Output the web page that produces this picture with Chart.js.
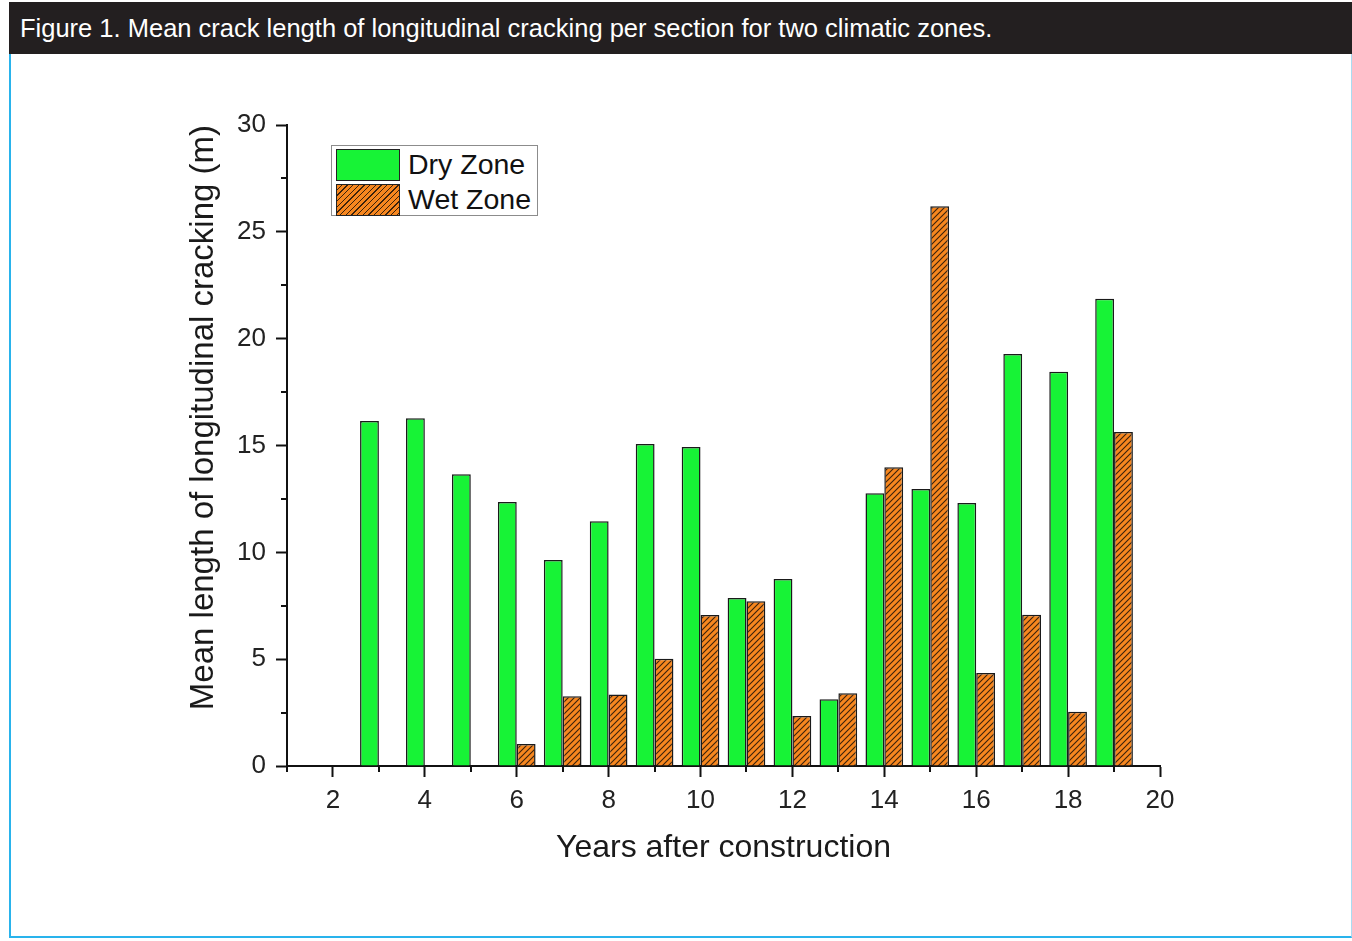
<!DOCTYPE html>
<html>
<head>
<meta charset="utf-8">
<script src="https://cdn.jsdelivr.net/npm/chart.js@4.4.1/dist/chart.umd.min.js"></script>
<style>
  body { margin: 0; background: #fff; font-family: "Liberation Sans", Arial, sans-serif; }
  #frame { position: absolute; left: 9px; top: 2px; width: 1340px; height: 934px;
           border-left: 2px solid #29b3ec; border-bottom: 2px solid #29b3ec; border-right: 1px solid #a9dcf2; }
  #header { position: absolute; left: 9px; top: 2px; width: 1343px; height: 52px; background: #231f20;
            color: #fff; font-size: 25.5px; line-height: 52px; padding-left: 11px; box-sizing: border-box; white-space: nowrap; }
  #myChart { position: absolute; left: 0; top: 0; }
  #legend { position: absolute; left: 331px; top: 145px; width: 205px; height: 69px;
            border: 1px solid #8c8c8c; background: #fff; }
  .row { position: absolute; left: 4px; height: 31px; }
  .swatch { position: absolute; left: 0; top: 0; width: 62px; height: 30px; border: 1px solid #222; }
  .label { position: absolute; left: 72px; top: -2px; font-size: 28.5px; line-height: 34px; color: #111; white-space: nowrap; }
</style>
</head>
<body>
<div id="frame"></div>
<div id="header">Figure 1. Mean crack length of longitudinal cracking per section for two climatic zones.</div>
<canvas id="myChart" width="1352" height="941"></canvas>
<div id="legend"></div>
<script>
// years after construction
const years = [3, 4, 5, 6, 7, 8, 9, 10, 11, 12, 13, 14, 15, 16, 17, 18, 19];
const dryZone = [16.15, 16.28, 13.66, 12.35, 9.64, 11.46, 15.07, 14.93, 7.86, 8.75, 3.12, 12.77, 12.96, 12.31, 19.28, 18.45, 21.87];
const wetZone = [null, null, null, 1.03, 3.26, 3.35, 5.02, 7.07, 7.71, 2.34, 3.40, 13.98, 26.2, 4.35, 7.08, 2.54, 15.63];
const xTicks = [2, 4, 6, 8, 10, 12, 14, 16, 18, 20];
const xMinor = [1, 3, 5, 7, 9, 11, 13, 15, 17, 19];
const yMinor = [2.5, 7.5, 12.5, 17.5, 22.5, 27.5];

const green = '#17f336';
const orange = '#f7871f';

// orange with black /// hatch
function hatch() {
    const c = document.createElement('canvas');
    c.width = 6; c.height = 6;
    const g = c.getContext('2d');
    g.fillStyle = orange;
    g.fillRect(0, 0, 6, 6);
    g.strokeStyle = '#3a220c';
    g.lineWidth = 1.1;
    g.beginPath();
    g.moveTo(-1, 7); g.lineTo(7, -1);
    g.moveTo(-1, 1); g.lineTo(1, -1);
    g.moveTo(5, 7); g.lineTo(7, 5);
    g.stroke();
    return g.createPattern(c, 'repeat');
}
const wetFill = hatch();

// short minor ticks drawn on the scales
const minorTicks = {
    id: 'minorTicks',
    afterDraw(chart) {
        const ctx = chart.ctx;
        const x = chart.scales.x, y = chart.scales.y;
        ctx.save();
        ctx.strokeStyle = '#111';
        ctx.lineWidth = 2;
        ctx.beginPath();
        xMinor.forEach(v => {
            const px = Math.round(x.getPixelForValue(v));
            ctx.moveTo(px, x.top); ctx.lineTo(px, x.top + 6);
        });
        yMinor.forEach(v => {
            const py = Math.round(y.getPixelForValue(v));
            ctx.moveTo(y.right, py); ctx.lineTo(y.right - 6, py);
        });
        ctx.stroke();
        ctx.restore();
    }
};

const font = { family: '"Liberation Sans", Arial, sans-serif' };

const ctx = document.getElementById('myChart').getContext('2d');
const chart = new Chart(ctx, {
    type: 'bar',
    data: {
        datasets: [{
            label: 'Dry Zone',
            data: years.map((yr, i) => ({ x: yr, y: dryZone[i] })),
            backgroundColor: green,
            borderColor: '#1a1a1a',
            borderWidth: 1.5
        }, {
            label: 'Wet Zone',
            data: years.map((yr, i) => ({ x: yr, y: wetZone[i] })),
            backgroundColor: wetFill,
            borderColor: '#1a1a1a',
            borderWidth: 1.5
        }]
    },
    options: {
        responsive: false,
        animation: false,
        categoryPercentage: 0.82,
        barPercentage: 1.0,
        layout: { padding: { left: 180, top: 125, right: 192, bottom: 65 } },
        plugins: { legend: { display: false }, tooltip: { enabled: false } },
        scales: {
            x: {
                type: 'linear',
                min: 1,
                max: 20,
                offset: false,
                afterBuildTicks: s => { s.ticks = xTicks.map(v => ({ value: v })); },
                afterFit: s => { s.height = 110; },
                grid: { offset: false, drawOnChartArea: false, tickLength: 11, tickWidth: 2, tickColor: '#111' },
                border: { color: '#111', width: 2 },
                ticks: { color: '#222', padding: 8, font: { ...font, size: 26 } },
                title: { display: true, text: 'Years after construction', color: '#1a1a1a',
                         padding: { top: 0, bottom: 9 }, font: { ...font, size: 32 } }
            },
            y: {
                min: 0,
                max: 30,
                afterFit: s => { s.width = 107; },
                grid: { drawOnChartArea: false, tickLength: 11, tickWidth: 2, tickColor: '#111' },
                border: { color: '#111', width: 2 },
                ticks: { stepSize: 5, color: '#222', padding: 10, font: { ...font, size: 26 } },
                title: { display: true, text: 'Mean length of longitudinal cracking (m)', color: '#1a1a1a',
                         align: 'end', padding: { top: 4, bottom: 0 }, font: { ...font, size: 33 } }
            }
        }
    },
    plugins: [minorTicks]
});

// legend box inside the plot
const legend = document.getElementById('legend');
chart.data.datasets.forEach((ds, i) => {
    const row = document.createElement('div');
    row.className = 'row';
    row.style.top = (3 + i * 35) + 'px';
    const sw = document.createElement('div');
    sw.className = 'swatch';
    if (i === 0) sw.style.background = green;
    else sw.style.background = 'repeating-linear-gradient(135deg, ' + orange + ' 0px, ' + orange + ' 3px, #3a220c 3px, #3a220c 4px)';
    const lb = document.createElement('div');
    lb.className = 'label';
    lb.textContent = ds.label;
    row.appendChild(sw);
    row.appendChild(lb);
    legend.appendChild(row);
});
</script>
</body>
</html>
